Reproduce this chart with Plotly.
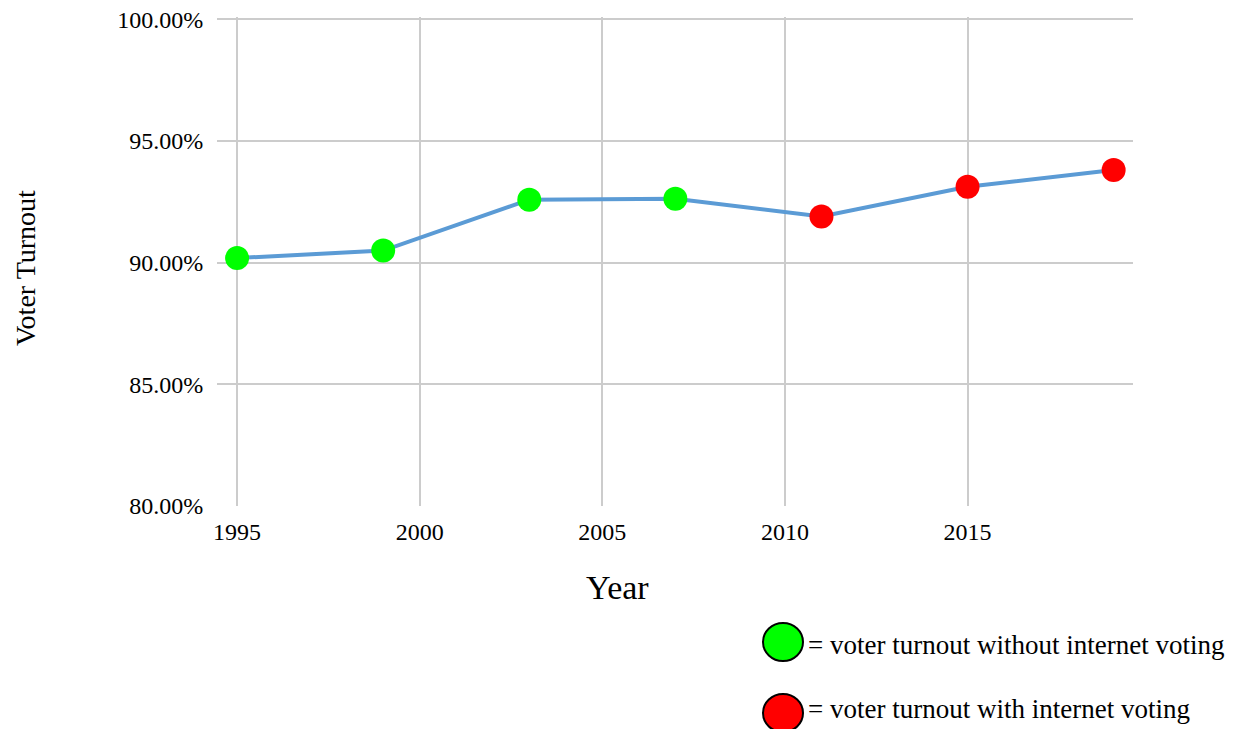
import plotly.graph_objects as go

years = [1995, 1999, 2003, 2007, 2011, 2015, 2019]
turnout = [90.19, 90.50, 92.59, 92.63, 91.90, 93.12, 93.81]
internet_voting = [False, False, False, False, True, True, True]
x_ticks = [1995, 2000, 2005, 2010, 2015]
y_ticks = [80, 85, 90, 95, 100]
y_tick_labels = ["80.00%", "85.00%", "90.00%", "95.00%", "100.00%"]
legend_labels = ["= voter turnout without internet voting", "= voter turnout with internet voting"]
legend_colors = ["#00FF00", "#FF0000"]

OX, OY = 8, 8           # page offset of the figure inside the browser window
W, H = 1235 - 2 * OX, 729 - OY
L, R, T, B = 217 - OX, 1133 - OX, 17 - OY, 506 - OY   # plot area in figure pixels
FONT = "Liberation Serif, Times New Roman, serif"

def px_x(p):
    return (p - OX - L) / (R - L)

def px_y(p):
    return (B - (p - OY)) / (B - T)

colors = [legend_colors[1] if iv else legend_colors[0] for iv in internet_voting]

fig = go.Figure()
fig.add_trace(go.Scatter(
    x=years, y=turnout, mode="lines+markers",
    line=dict(color="#5B9BD5", width=4),
    marker=dict(size=24, color=colors, line=dict(width=0)),
    showlegend=False,
))

fig.update_layout(
    width=W, height=H,
    margin=dict(l=L, r=W - R, t=T, b=H - B, autoexpand=False),
    paper_bgcolor="white", plot_bgcolor="white",
    font=dict(family=FONT, size=24, color="black"),
    xaxis=dict(range=[1994.45, 2019.53], tickvals=x_ticks, showgrid=True,
               gridcolor="#CCCCCC", gridwidth=2, zeroline=False,
               showline=False, ticks="outside", ticklen=4, tickcolor="rgba(0,0,0,0)",
               automargin=False, ticklabeloverflow="allow",
               tickfont=dict(family=FONT, size=24)),
    yaxis=dict(range=[80, 100.1], tickvals=y_ticks, ticktext=y_tick_labels,
               showgrid=True, gridcolor="#CCCCCC", gridwidth=2, zeroline=False,
               showline=False, ticks="outside", ticklen=8, tickcolor="rgba(0,0,0,0)",
               automargin=False, ticklabeloverflow="allow",
               tickfont=dict(family=FONT, size=24)),
)

annotations = [
    dict(text="Year", x=px_x(617), y=px_y(587), xref="paper", yref="paper",
         showarrow=False, font=dict(family=FONT, size=34), xanchor="center", yanchor="middle"),
    dict(text="Voter Turnout", x=px_x(25), y=px_y(268), xref="paper", yref="paper",
         showarrow=False, textangle=-90, font=dict(family=FONT, size=28),
         xanchor="center", yanchor="middle"),
]
shapes = []
for i, (lab, col) in enumerate(zip(legend_labels, legend_colors)):
    cy = [642, 713][i]
    ty = [645, 709][i]
    shapes.append(dict(type="circle", xref="paper", yref="paper",
                       xsizemode="pixel", ysizemode="pixel",
                       xanchor=px_x(783), yanchor=px_y(cy),
                       x0=-20, x1=20, y0=-19, y1=19,
                       fillcolor=col, line=dict(color="black", width=2)))
    annotations.append(dict(text=lab, x=px_x(806), y=px_y(ty), xref="paper", yref="paper",
                            showarrow=False, xanchor="left", yanchor="middle",
                            font=dict(family=FONT, size=27)))

fig.update_layout(annotations=annotations, shapes=shapes)
fig.write_html("out.html")
